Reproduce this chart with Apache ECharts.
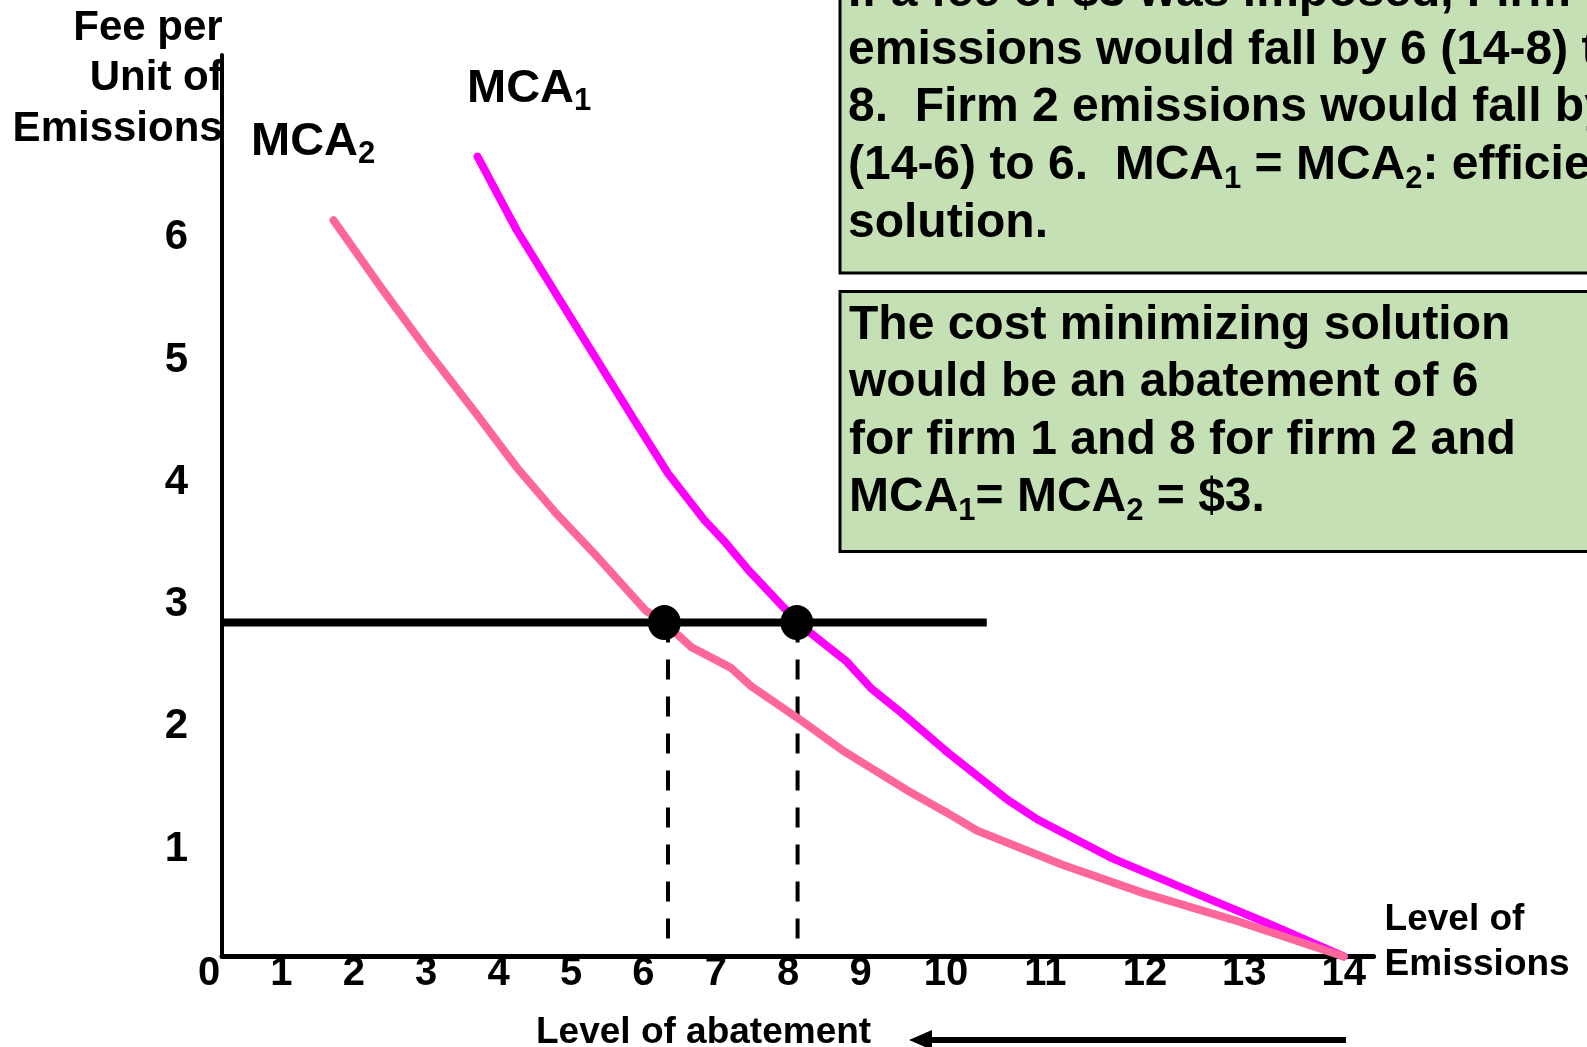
<!DOCTYPE html>
<html>
<head>
<meta charset="utf-8">
<title>MCA fee</title>
<script src="https://cdn.jsdelivr.net/npm/echarts@6/dist/echarts.min.js"></script>
<style>
  html, body { margin: 0; padding: 0; background: #ffffff; }
  #main { width: 1587px; height: 1047px; }
</style>
</head>
<body>
<div id="main"></div>
<script>
  // x = level of emissions, y = fee per unit of emissions
  let xTicksLow = [0, 1, 2, 3, 4, 5, 6, 7, 8, 9];
  let xTicksHigh = [10, 11, 12, 13, 14];
  let yTicks = [1, 2, 3, 4, 5, 6];

  let mca1 = [[3.53, 6.54], [4.07, 5.94], [4.81, 5.23], [5.67, 4.41], [6.16, 3.95], [6.66, 3.57],
    [6.96, 3.38], [7.27, 3.16], [7.97, 2.72], [8.63, 2.41], [8.97, 2.19], [9.39, 1.99], [10, 1.68],
    [10.62, 1.28], [10.92, 1.12], [11.68, 0.80], [12.59, 0.49], [13.24, 0.27], [14, 0]];
  let mca2 = [[1.54, 6.02], [2.22, 5.45], [2.83, 4.96], [3.51, 4.44], [4.07, 4.00], [4.62, 3.62],
    [5.18, 3.27], [5.85, 2.83], [6.13, 2.72], [6.48, 2.53], [7.03, 2.36], [7.31, 2.21], [8.00, 1.93],
    [8.56, 1.69], [9.46, 1.36], [10, 1.18], [10.31, 1.03], [11.17, 0.75], [11.98, 0.52], [12.89, 0.30], [14, 0]];

  let fee = 2.73;
  let feeEnd = 10.41;
  let crossX = [6.11, 7.94];
  let dropX = [6.16, 7.95];

  let box1Lines = [
    'If a fee of $3 was imposed, Firm 1',
    'emissions would fall by 6 (14-8) to',
    '8.  Firm 2 emissions would fall by 8',
    '(14-6) to 6.  MCA{s|1} = MCA{s|2}: efficient',
    'solution.'
  ];
  let box2Lines = [
    'The cost minimizing solution',
    'would be an abatement of 6',
    'for firm 1 and 8 for firm 2 and',
    'MCA{s|1}= MCA{s|2} = $3.'
  ];

  const FONT = '"Liberation Sans", Arial, Helvetica, sans-serif';
  const Y_MAX = 7.37;
  const SPLIT = 10;

  // the picture stretches the axis past 10, so it is drawn in two grids
  function lowPart(pts) { return pts.filter(p => p[0] <= SPLIT); }
  function highPart(pts) { return pts.filter(p => p[0] >= SPLIT); }

  function curve(data, grid, color, z) {
    return {
      type: 'line', xAxisIndex: grid, yAxisIndex: grid, data: data,
      symbol: 'none', clip: false, silent: true, z: z,
      lineStyle: { color: color, width: 8, cap: 'round', join: 'round' }
    };
  }

  function xAxisOf(grid, min, max, ticks, pad) {
    return {
      type: 'value', gridIndex: grid, min: min, max: max,
      axisLine: { show: true, onZero: true, lineStyle: { color: '#000', width: 5 } },
      axisTick: { show: false },
      splitLine: { show: false },
      axisLabel: {
        customValues: ticks, color: '#000', fontFamily: FONT, fontWeight: 'bold',
        fontSize: 40, margin: -3, padding: pad
      }
    };
  }

  let subStyle = { fontSize: 31, fontWeight: 'bold', fontFamily: FONT, fill: '#000', verticalAlign: 'bottom', lineHeight: 28 };

  function textBlock(lines, x, y, size, lh, align) {
    return {
      type: 'text', x: x, y: y, silent: true,
      style: {
        text: lines.join('\n'), fill: '#000', fontFamily: FONT, fontWeight: 'bold',
        fontSize: size, lineHeight: lh, align: align || 'left', verticalAlign: 'top',
        rich: { s: subStyle }
      }
    };
  }

  let option = {
    animation: false,
    backgroundColor: '#ffffff',
    grid: [
      { left: 222, top: 55.1, width: 724, height: 901.4, outerBoundsMode: 'none' },
      { left: 946, top: 55.1, width: 427.6, height: 901.4, outerBoundsMode: 'none' }
    ],
    xAxis: [
      xAxisOf(0, 0, SPLIT, xTicksLow, [0, 26, 0, 0]),
      xAxisOf(1, SPLIT, 14.3, xTicksHigh, 0)
    ],
    yAxis: [
      {
        type: 'value', gridIndex: 0, min: 0, max: Y_MAX,
        axisLine: { show: true, lineStyle: { color: '#000', width: 4 } },
        axisTick: { show: false },
        splitLine: { show: false },
        axisLabel: {
          customValues: yTicks, color: '#000', fontFamily: FONT, fontWeight: 'bold',
          fontSize: 42, margin: 34, verticalAlign: 'top', lineHeight: 30
        }
      },
      { type: 'value', gridIndex: 1, min: 0, max: Y_MAX, show: false }
    ],
    series: [
      {
        type: 'line', xAxisIndex: 0, yAxisIndex: 0, symbol: 'none', clip: false, silent: true, z: 2,
        data: [[dropX[0], fee], [dropX[0], 0], null, [dropX[1], fee], [dropX[1], 0]],
        connectNulls: false,
        lineStyle: { color: '#000', width: 4, type: [20, 17] }
      },
      {
        type: 'line', xAxisIndex: 0, yAxisIndex: 0, symbol: 'none', clip: false, silent: true, z: 2,
        data: [[0, fee], [SPLIT, fee]], lineStyle: { color: '#000', width: 8, cap: 'butt' }
      },
      {
        type: 'line', xAxisIndex: 1, yAxisIndex: 1, symbol: 'none', clip: false, silent: true, z: 2,
        data: [[SPLIT, fee], [feeEnd, fee]], lineStyle: { color: '#000', width: 8, cap: 'butt' }
      },
      curve(lowPart(mca1), 0, '#ff00ff', 3),
      curve(highPart(mca1), 1, '#ff00ff', 3),
      curve(lowPart(mca2), 0, '#ff6699', 4),
      curve(highPart(mca2), 1, '#ff6699', 4),
      {
        type: 'scatter', xAxisIndex: 0, yAxisIndex: 0, silent: true, z: 6,
        symbol: 'circle', symbolSize: [33, 35],
        itemStyle: { color: '#000', opacity: 1 },
        data: crossX.map(x => [x, fee])
      }
    ],
    graphic: [
      { type: 'rect', silent: true, shape: { x: 840, y: -10, width: 800, height: 283 },
        style: { fill: '#c5e0b4', stroke: '#000', lineWidth: 3 } },
      { type: 'rect', silent: true, shape: { x: 840, y: 291.5, width: 800, height: 260 },
        style: { fill: '#c5e0b4', stroke: '#000', lineWidth: 3 } },
      textBlock(box1Lines, 848, -36, 48, 57.7),
      textBlock(box2Lines, 849, 297, 48, 57.5),
      textBlock(['Fee per', 'Unit of', 'Emissions'], 222.7, 3, 42, 50.6, 'right'),
      textBlock(['MCA{s|1}'], 467, 61, 47, 56),
      textBlock(['MCA{s|2}'], 251, 114, 47, 56),
      textBlock(['Level of', 'Emissions'], 1384.6, 897.7, 37, 44.5),
      textBlock(['Level of abatement'], 536, 1013, 37, 40),
      { type: 'line', silent: true, shape: { x1: 1346, y1: 1040, x2: 925, y2: 1040 },
        style: { stroke: '#000', lineWidth: 6 } },
      { type: 'polygon', silent: true, shape: { points: [[909, 1040], [932, 1030], [932, 1050]] },
        style: { fill: '#000' } }
    ]
  };

  let myChart = echarts.init(document.getElementById('main'));
  myChart.setOption(option);
</script>
</body>
</html>
